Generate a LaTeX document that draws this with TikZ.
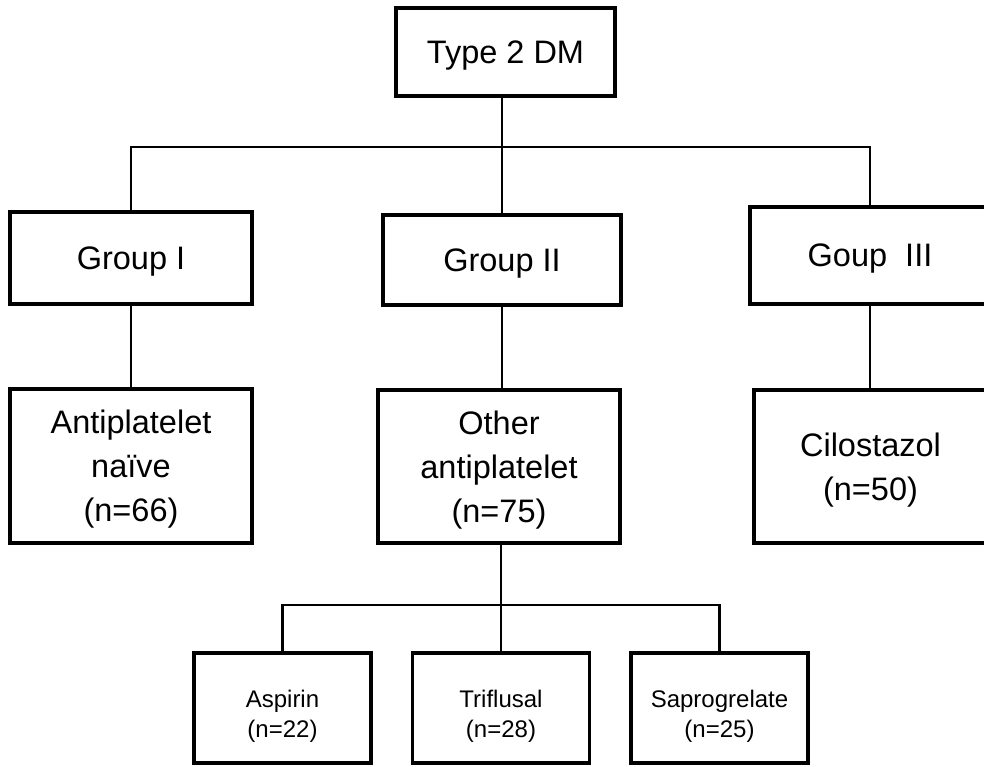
\documentclass[tikz,border=0pt]{standalone}
\usepackage{fontspec}
\setmainfont{Liberation Sans}
\usetikzlibrary{calc}

\begin{document}
\begin{tikzpicture}[
	x=0.5pt, y=-0.5pt,
	big/.style={draw, line width=1.6pt, align=center, inner sep=0pt, text depth=0pt,
	font=\fontsize{16.25}{22}\selectfont},
	small/.style={draw, line width=1.6pt, align=center, inner sep=0pt,
	text height=29pt, text depth=0pt,
	font=\fontsize{12}{15}\selectfont},
	link/.style={-, line width=1.4pt, black},
]
	\clip (0,0) rectangle (984,766);
	\useasboundingbox (0,0) rectangle (984,766);

	\node[big, minimum width=109.5pt, minimum height=44pt] at (505.5,52) (0) {Type 2 DM};

	\node[big, minimum width=121pt, minimum height=46pt] at (131,258) (1) {Group I};
	\node[big, minimum width=119pt, minimum height=45pt] at (502,260) (2) {Group II};
	\node[big, minimum width=120pt, minimum height=48.5pt] at (870,255.5) (3) {Goup\ \ III};

	\node[big, minimum width=121pt, minimum height=77pt] at (131,466) (4) {Antiplatelet\\naïve\\(n=66)};
	\node[big, minimum width=121pt, minimum height=76.5pt] at (499,466.5) (5) {Other\\antiplatelet\\(n=75)};
	\node[big, minimum width=116.5pt, minimum height=76.5pt] at (870.5,466.5) (6) {Cilostazol\\(n=50)};

	\node[small, minimum width=88.5pt, minimum height=55pt] at (282.5,708) (7) {Aspirin\\(n=22)};
	\node[small, minimum width=88.5pt, minimum height=55pt] at (501,708) (8) {Triflusal\\(n=28)};
	\node[small, minimum width=88.5pt, minimum height=55pt] at (719.5,708) (9) {Saprogrelate\\(n=25)};

	\coordinate (bus1) at (0,147);
	\coordinate (bus2) at (0,605);

	\draw[link] (0.south -| 2.north) -- (2.north);
	\draw[link] (1.north) -- (1.north |- bus1) -- (3.north |- bus1) -- (3.north);
	\draw[link] (1.south) -- (1.south |- 4.north);
	\draw[link] (2.south) -- (2.south |- 5.north);
	\draw[link] (3.south) -- (3.south |- 6.north);
	\draw[link] (5.south -| 8.north) -- (8.north);
	\draw[link] (7.north) -- (7.north |- bus2) -- (9.north |- bus2) -- (9.north);
\end{tikzpicture}
\end{document}
